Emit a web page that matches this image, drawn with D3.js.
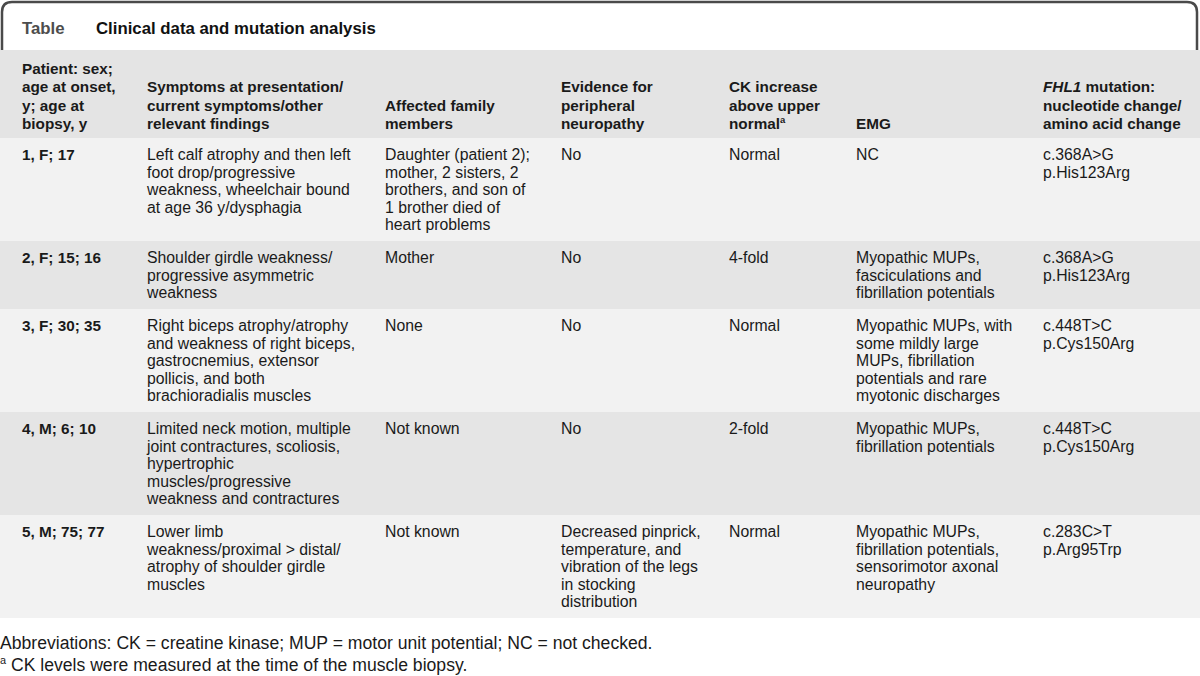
<!DOCTYPE html>
<html>
<head>
<meta charset="utf-8">
<script src="https://cdn.jsdelivr.net/npm/d3@7"></script>
<style>
    body { margin: 0; background: #ffffff; }
    text { font-family: "Liberation Sans", Arial, sans-serif; }
</style>
</head>
<body>
<div id="tableContainer"></div>
<script>
'use strict';

// table content, one array per column, each cell split in its printed lines
const tableLabel = "Table";
const tableTitle = "Clinical data and mutation analysis";

const headers = [
    ["Patient: sex;", "age at onset,", "y; age at", "biopsy, y"],
    ["Symptoms at presentation/", "current symptoms/other", "relevant findings"],
    ["Affected family", "members"],
    ["Evidence for", "peripheral", "neuropathy"],
    ["CK increase", "above upper", "normal|a"],
    ["EMG"],
    ["*FHL1* mutation:", "nucleotide change/", "amino acid change"]
];

const patients = [
    ["1, F; 17"],
    ["2, F; 15; 16"],
    ["3, F; 30; 35"],
    ["4, M; 6; 10"],
    ["5, M; 75; 77"]
];

const symptoms = [
    ["Left calf atrophy and then left", "foot drop/progressive", "weakness, wheelchair bound", "at age 36 y/dysphagia"],
    ["Shoulder girdle weakness/", "progressive asymmetric", "weakness"],
    ["Right biceps atrophy/atrophy", "and weakness of right biceps,", "gastrocnemius, extensor", "pollicis, and both", "brachioradialis muscles"],
    ["Limited neck motion, multiple", "joint contractures, scoliosis,", "hypertrophic", "muscles/progressive", "weakness and contractures"],
    ["Lower limb", "weakness/proximal > distal/", "atrophy of shoulder girdle", "muscles"]
];

const family = [
    ["Daughter (patient 2);", "mother, 2 sisters, 2", "brothers, and son of", "1 brother died of", "heart problems"],
    ["Mother"],
    ["None"],
    ["Not known"],
    ["Not known"]
];

const neuropathy = [
    ["No"],
    ["No"],
    ["No"],
    ["No"],
    ["Decreased pinprick,", "temperature, and", "vibration of the legs", "in stocking", "distribution"]
];

const ckIncrease = [
    ["Normal"],
    ["4-fold"],
    ["Normal"],
    ["2-fold"],
    ["Normal"]
];

const emg = [
    ["NC"],
    ["Myopathic MUPs,", "fasciculations and", "fibrillation potentials"],
    ["Myopathic MUPs, with", "some mildly large", "MUPs, fibrillation", "potentials and rare", "myotonic discharges"],
    ["Myopathic MUPs,", "fibrillation potentials"],
    ["Myopathic MUPs,", "fibrillation potentials,", "sensorimotor axonal", "neuropathy"]
];

const mutations = [
    ["c.368A>G", "p.His123Arg"],
    ["c.368A>G", "p.His123Arg"],
    ["c.448T>C", "p.Cys150Arg"],
    ["c.448T>C", "p.Cys150Arg"],
    ["c.283C>T", "p.Arg95Trp"]
];

const footnotes = [
    "Abbreviations: CK = creatine kinase; MUP = motor unit potential; NC = not checked.",
    "|a CK levels were measured at the time of the muscle biopsy."
];

// layout
const msm = {
    width: 1200,
    height: 676,
    headerTop: 50,
    headerBottom: 138,
    headerLine: 18.3,
    bodyLine: 17.5,
    rowPad: 15.5,
    firstBaseline: 22,
    headSize: 15.3,
    bodySize: 15.8,
    noteSize: 17.6
};

const columns = [patients, symptoms, family, neuropathy, ckIncrease, emg, mutations];
const columnKeys = d3.range(columns.length);
const colX = d3.scaleOrdinal()
    .domain(columnKeys)
    .range([22, 147, 385, 561, 729, 856, 1043]);

// Writes one line, handling *italic* parts and |a superscripts
const writeLine = (textSel, line, size) => {
    const parts = line.split(/(\*[^*]+\*|\|a)/).filter(p => p.length > 0);
    let pending = 0;
    parts.forEach(p => {
        if (p === "|a") {
            textSel.append("tspan")
                .attr("dy", -size * 0.4)
                .style("font-size", (size * 0.62) + "px")
                .text("a");
            pending = size * 0.4;
            return;
        }
        const span = textSel.append("tspan")
            .text(p.startsWith("*") ? p.slice(1, -1) : p);
        if (p.startsWith("*")) span.style("font-style", "italic");
        if (pending) { span.attr("dy", pending); pending = 0; }
    });
}

const drawTable = () => {
    const svg = d3.select("#tableContainer")
        .append("svg")
        .attr("width", msm.width)
        .attr("height", msm.height);

    // title box, open at the bottom
    const r = 10;
    svg.append("path")
        .attr("d", "M 2," + msm.headerTop + " L 2," + (2 + r) + " Q 2,2 " + (2 + r) + ",2 L " + (1197 - r) + ",2 Q 1197,2 1197," + (2 + r) + " L 1197," + msm.headerTop)
        .attr("fill", "#ffffff")
        .attr("stroke", "#4a4a4a")
        .attr("stroke-width", 2.5);

    svg.append("text")
        .attr("x", 22).attr("y", 34)
        .style("font-size", "16.8px").style("font-weight", "bold")
        .attr("fill", "#4d4d4d")
        .text(tableLabel);

    svg.append("text")
        .attr("x", 96).attr("y", 34)
        .style("font-size", "16.8px").style("font-weight", "bold")
        .attr("fill", "#111111")
        .text(tableTitle);

    // header band
    svg.append("rect")
        .attr("x", 0).attr("y", msm.headerTop)
        .attr("width", msm.width).attr("height", msm.headerBottom - msm.headerTop)
        .attr("fill", "#e4e4e4");

    headers.forEach((lines, i) => {
        const n = lines.length;
        lines.forEach((line, j) => {
            const t = svg.append("text")
                .attr("x", colX(i))
                .attr("y", msm.headerBottom - 9 - (n - 1 - j) * msm.headerLine)
                .style("font-size", msm.headSize + "px")
                .style("font-weight", "bold")
                .attr("fill", "#1a1a1a");
            writeLine(t, line, msm.headSize);
        });
    });

    // row heights from the tallest cell of each row
    const rowLines = patients.map((d, i) => d3.max(columns, c => c[i].length));
    const rowTops = [];
    let y = msm.headerBottom;
    rowLines.forEach(n => {
        rowTops.push(y);
        y += n * msm.bodyLine + msm.rowPad;
    });

    const rows = svg.selectAll(".row")
        .data(rowLines)
        .enter()
        .append("g")
        .attr("class", "row")
        .attr("transform", (d, i) => "translate(0," + rowTops[i] + ")");

    rows.append("rect")
        .attr("x", 0).attr("y", 0)
        .attr("width", msm.width)
        .attr("height", d => d * msm.bodyLine + msm.rowPad)
        .attr("fill", (d, i) => i % 2 === 0 ? "#f2f2f2" : "#e5e5e5");

    rows.each(function (d, i) {
        const g = d3.select(this);
        columns.forEach((col, c) => {
            col[i].forEach((line, j) => {
                g.append("text")
                    .attr("x", colX(c))
                    .attr("y", msm.firstBaseline + j * msm.bodyLine)
                    .style("font-size", (c === 0 ? msm.headSize : msm.bodySize) + "px")
                    .style("font-weight", c === 0 ? "bold" : "normal")
                    .attr("fill", "#1a1a1a")
                    .text(line);
            });
        });
    });

    // footnotes
    footnotes.forEach((line, i) => {
        const t = svg.append("text")
            .attr("x", 0)
            .attr("y", 649 + i * 22)
            .style("font-size", msm.noteSize + "px")
            .attr("fill", "#1a1a1a");
        writeLine(t, line, msm.noteSize);
    });
}

drawTable();
</script>
</body>
</html>
